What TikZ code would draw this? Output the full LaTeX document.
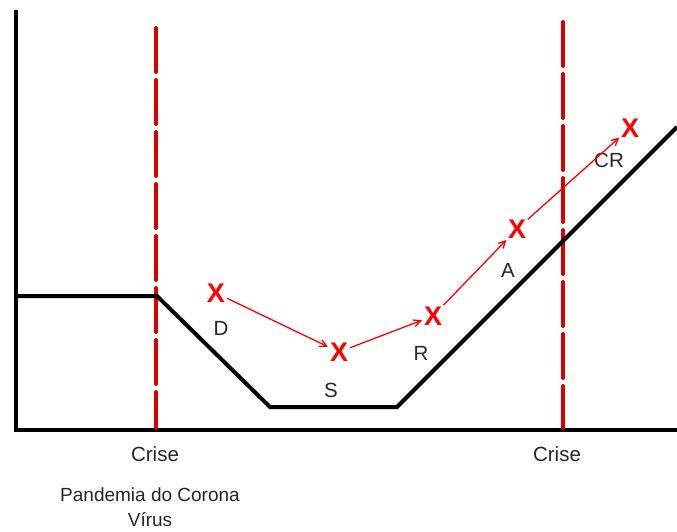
\documentclass[tikz,border=0pt]{standalone}
\usepackage{fontspec}
\setmainfont{Liberation Sans}
\usetikzlibrary{arrows.meta}
\begin{document}
\begin{tikzpicture}[x=1pt,y=-1pt,
  axis/.style={line width=4.5pt,black},
  curve/.style={line width=4pt,black,line join=miter},
  crisis/.style={line width=4pt,red!85!black,dash pattern=on 44pt off 8pt,line cap=round},
  xmark/.style={text=red,font=\fontsize{27}{27}\selectfont\bfseries,inner sep=0pt},
  lbl/.style={font=\fontsize{20.5}{25}\selectfont,inner sep=0pt,text=black!85},
  move/.style={red,line width=1.3pt,-{Straight Barb[length=7pt,width=7pt]},shorten <=2pt,shorten >=2pt}]
\useasboundingbox (0,0) rectangle (677,532);
% axes
\coordinate (o) at (16,430);
\coordinate (ytop) at (16,10);
\coordinate (xend) at (677,430);
\draw[axis] (ytop) -- (o) -- (xend);
% crisis lines
\coordinate (c1t) at (156,28);
\coordinate (c1b) at (156,428);
\coordinate (c2t) at (563,22);
\coordinate (c2b) at (563,428);
\draw[crisis] (c1t) -- (c1b);
\draw[crisis] (c2t) -- (c2b);
% curve
\coordinate (p0) at (16,296);
\coordinate (p1) at (157,296);
\coordinate (p2) at (270,407);
\coordinate (p3) at (397,407);
\coordinate (p4) at (677,127);
\draw[curve] (p0) -- (p1) -- (p2) -- (p3) -- (p4);
% markers
\node[xmark] (xd) at (216,293) {X};
\node[xmark] (xs) at (339,352) {X};
\node[xmark] (xr) at (433,316) {X};
\node[xmark] (xa) at (517,229) {X};
\node[xmark] (xc) at (630,128) {X};
% labels
\node[lbl] (ld) at (221,328) {D};
\node[lbl] (ls) at (331,390) {S};
\node[lbl] (lr) at (421,353) {R};
\node[lbl] (la) at (508,270) {A};
\node[lbl] (lc) at (609,160) {CR};
% arrows
\draw[move] (xd) -- (xs);
\draw[move] (xs) -- (xr);
\draw[move] (xr) -- (xa);
\draw[move] (xa) -- (xc);
% bottom texts
\node[lbl] (cr1) at (155,454) {Crise};
\node[lbl,align=center,font=\fontsize{19}{25}\selectfont] (pan) at (150,507) {Pandemia do Corona\\Vírus};
\node[lbl] (cr2) at (557,454) {Crise};
\end{tikzpicture}
\end{document}
